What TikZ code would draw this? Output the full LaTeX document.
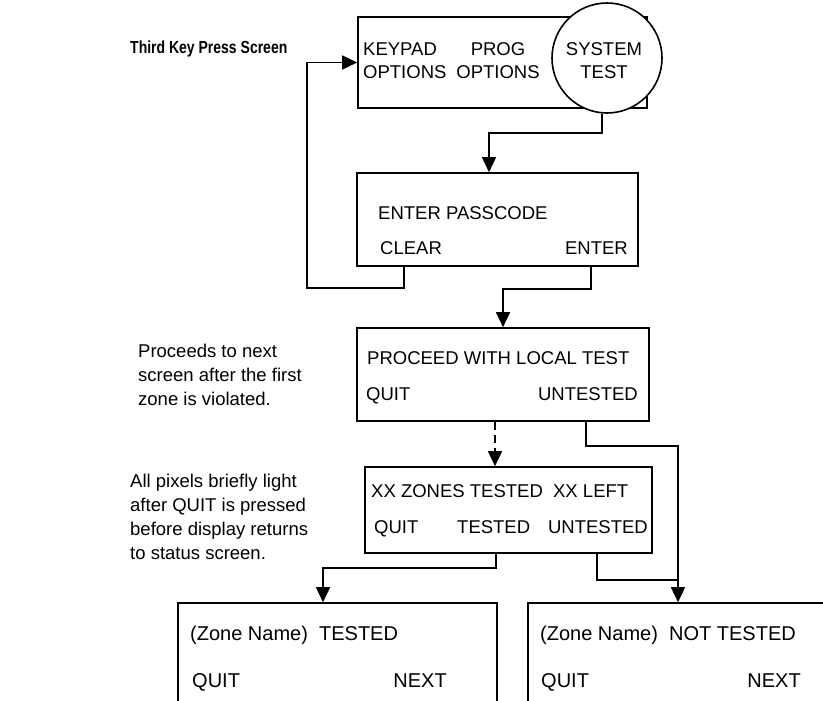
\documentclass[tikz,border=0pt]{standalone}
\usepackage{fontspec}
\setmainfont{Liberation Sans}
\newfontfamily\titlefont[FakeStretch=0.8]{Liberation Sans}
\usetikzlibrary{arrows.meta}

\tikzset{
  screen/.style={draw, line width=1.6pt, inner sep=0pt},
  keytxt/.style={font=\fontsize{18.5}{23}\selectfont, inner sep=0pt},
  bigtxt/.style={font=\fontsize{20}{23}\selectfont, inner sep=0pt},
  note/.style={font=\fontsize{18.5}{24}\selectfont, align=left, inner sep=0pt, anchor=north west},
  link/.style={line width=1.6pt},
  arr/.style={link, -{Triangle[width=14pt,length=15pt]}},
}

\begin{document}
\begin{tikzpicture}[x=1pt, y=-1pt]
\clip (0,0) rectangle (823,701);

% title
\node[font=\titlefont\fontsize{17.5}{20}\selectfont\bfseries, inner sep=0pt, anchor=base west] (title) at (130,54) {Third Key Press Screen};

% screens
\node[screen, minimum width=289, minimum height=91] (menu) at (502.5,62.5) {};
\node[screen, circle, fill=white, minimum size=110] (sysTest) at (607,58) {};
\node[screen, minimum width=281, minimum height=93] (pass) at (497.5,219.5) {};
\node[screen, minimum width=292, minimum height=93] (local) at (503,374.5) {};
\node[screen, minimum width=287, minimum height=86] (zones) at (508.5,510) {};
\node[screen, minimum width=319, minimum height=117] (tested) at (337.5,661.5) {};
\node[screen, minimum width=300, minimum height=117] (notTested) at (678,661.5) {};

% screen texts
\node[keytxt, anchor=base west, align=left] (keypad) at (363,79) {KEYPAD\\OPTIONS};
\node[keytxt, anchor=base, align=center] (prog) at (498,79) {PROG\\OPTIONS};
\node[keytxt, anchor=base, align=center] (system) at (604,79) {SYSTEM\\TEST};

\node[keytxt, anchor=base west] (passTxt) at (378,219) {ENTER PASSCODE};
\node[keytxt, anchor=base west] (clearKey) at (380,254) {CLEAR};
\node[keytxt, anchor=base east] (enterKey) at (628,254) {ENTER};

\node[keytxt, anchor=base west] (localTxt) at (367,364) {PROCEED WITH LOCAL TEST};
\node[keytxt, anchor=base west] (quitA) at (366,400) {QUIT};
\node[keytxt, anchor=base east] (untestA) at (638,400) {UNTESTED};

\node[keytxt, anchor=base west] (zonesTxt) at (371,497) {XX ZONES TESTED\ \ XX LEFT};
\node[keytxt, anchor=base west] (quitB) at (374,533) {QUIT};
\node[keytxt, anchor=base west] (testedKey) at (457,533) {TESTED};
\node[keytxt, anchor=base east] (untestB) at (648,533) {UNTESTED};

\node[bigtxt, anchor=base west] (testedTxt) at (190,640) {(Zone Name)\ \ TESTED};
\node[bigtxt, anchor=base west] (quitC) at (192,687) {QUIT};
\node[bigtxt, anchor=base east] (nextC) at (447,687) {NEXT};

\node[bigtxt, anchor=base west] (notTestedTxt) at (540,640) {(Zone Name)\ \ NOT TESTED};
\node[bigtxt, anchor=base west] (quitD) at (541,687) {QUIT};
\node[bigtxt, anchor=base east] (nextD) at (801,687) {NEXT};

% side notes
\node[note] (noteProceed) at (138,344) {Proceeds to next\\screen after the first\\zone is violated.};
\node[note] (notePixels) at (130,474) {All pixels briefly light\\after QUIT is pressed\\before display returns\\to status screen.};

% connectors
\coordinate (untJoin) at (678,580);
\draw[arr] ([xshift=-5]sysTest.south) -- ++(0,19) -| ([xshift=-8.5]pass.north);
\draw[arr] ([xshift=48]pass.south west) -- ++(0,21) -| ([xshift=-50]menu.west) -- (menu.west);
\draw[arr] ([xshift=-48]pass.south east) -- ++(0,22) -| (local.north);
\draw[arr, dashed, dash pattern=on 8pt off 5pt] ([xshift=-8]local.south) -- ([xshift=-8]local.south |- zones.north);
\draw[arr] ([xshift=-64]local.south east) -- ++(0,24) -| (notTested.north);
\draw[arr] ([xshift=-12.5]zones.south) -- ++(0,14) -| ([xshift=-14.5]tested.north);
\draw[link] ([xshift=-56]zones.south east) |- (untJoin);
\end{tikzpicture}
\end{document}
